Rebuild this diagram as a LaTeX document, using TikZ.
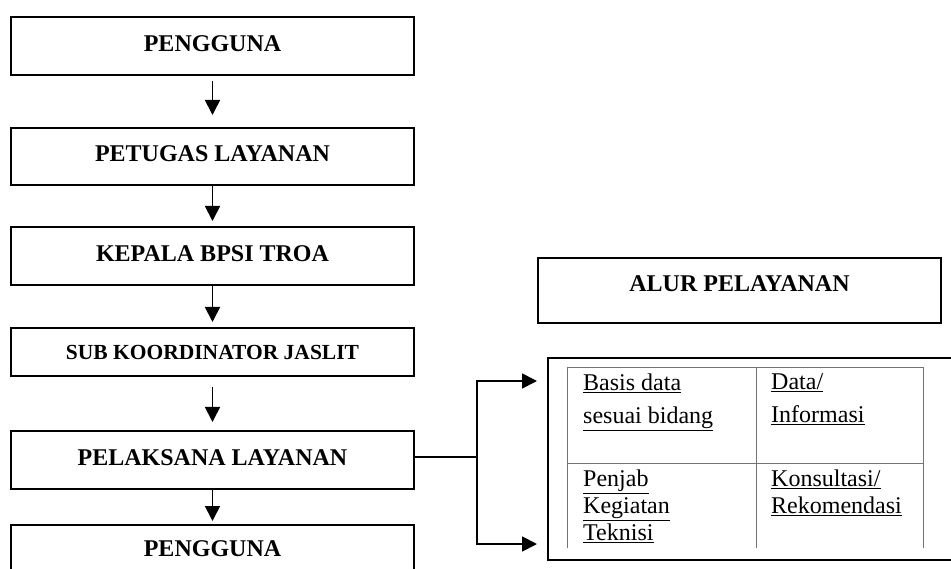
\documentclass[tikz,border=0pt]{standalone}
\usepackage{fontspec}
\setmainfont{Liberation Serif}
\usetikzlibrary{arrows.meta}
\tikzset{
  kotak/.style={draw, line width=2pt, minimum width=403pt, inner sep=0pt,
    text depth=5pt, font=\fontsize{24}{28}\selectfont\bfseries},
  alur/.style={line width=1.8pt, -{Triangle[length=15pt,width=15pt]}},
  garis/.style={line width=1.8pt},
  tabel/.style={line width=1pt, draw=black!55},
  sel/.style={anchor=north west, inner sep=0pt, align=left}
}

\begin{document}
\begin{tikzpicture}[x=1pt,y=-1pt]
  \useasboundingbox (0,0) rectangle (951,569);
  \clip (0,0) rectangle (951,569);
  \node[kotak, minimum height=58pt] (pengguna) at (212.5,46) {PENGGUNA};
  \node[kotak, minimum height=57pt] (petugas) at (212.5,156.5) {PETUGAS LAYANAN};
  \node[kotak, minimum height=58pt] (kepala) at (212.5,256) {KEPALA BPSI TROA};
  \node[kotak, minimum height=48pt, text depth=0pt, font=\fontsize{21.5}{25}\selectfont\bfseries] (subkoor) at (212.5,352) {SUB KOORDINATOR JASLIT};
  \node[kotak, minimum height=58pt] (pelaksana) at (212.5,460) {PELAKSANA LAYANAN};
  \node[kotak, minimum height=52pt] (pengguna2) at (212.5,551) {PENGGUNA};
  \node[kotak, minimum height=65pt, text depth=13pt] (judul) at (739.5,290.5) {ALUR PELAYANAN};
  \node[draw, line width=2pt, anchor=north west, minimum width=430pt, minimum height=202pt] (wadah) at (547,357) {};

  \draw[alur, shorten <=5pt, shorten >=12pt] (pengguna) -- (petugas);
  \draw[alur, shorten >=5pt] (petugas) -- (kepala);
  \draw[alur, shorten >=5pt] (kepala) -- (subkoor);
  \draw[alur, shorten <=10pt, shorten >=8pt] (subkoor) -- (pelaksana);
  \draw[alur, shorten >=3pt] (pelaksana) -- (pengguna2);

  \coordinate (cabang) at (477,457);
  \coordinate (masuk1) at (537,381);
  \coordinate (masuk2) at (537,544);
  \draw[garis] (pelaksana.east |- cabang) -- (cabang);
  \draw[alur] (cabang) |- (masuk1);
  \draw[alur] (cabang) |- (masuk2);

  \draw[tabel] (567,548) -- (567,368) -- (923,368) -- (923,548);
  \draw[tabel] (756,368) -- (756,548);
  \draw[tabel] (567,463) -- (923,463);
  \node[sel, font=\fontsize{24}{33}\selectfont] (basis) at (583,373.6) {\underline{Basis data}\\\underline{sesuai bidang}};
  \node[sel, font=\fontsize{24}{33}\selectfont] (data) at (771,373.6) {\underline{Data/}\\\underline{Informasi}};
  \node[sel, font=\fontsize{24}{27}\selectfont] (penjab) at (583,469.6) {\underline{Penjab}\\\underline{Kegiatan}\\\underline{Teknisi}};
  \node[sel, font=\fontsize{24}{27}\selectfont] (konsul) at (771,469.6) {\underline{Konsultasi/}\\\underline{Rekomendasi}};
\end{tikzpicture}
\end{document}
